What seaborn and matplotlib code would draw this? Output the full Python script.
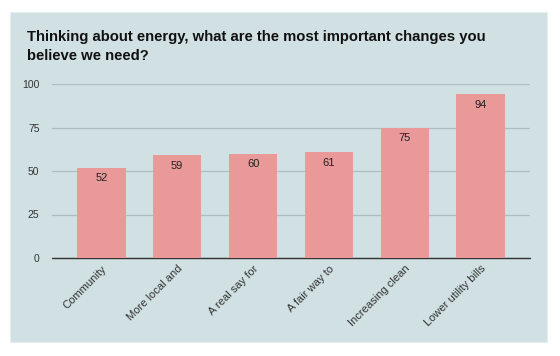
import pandas as pd
import matplotlib.pyplot as plt
import seaborn as sns
from matplotlib.patches import Rectangle

categories = ["Community", "More local and", "A real say for", "A fair way to",
              "Increasing clean", "Lower utility bills"]
values = [52, 59, 60, 61, 75, 94]
yticks = [0, 25, 50, 75, 100]

panel = "#d0e0e3"
bar_color = "#ea9999"

sns.set_theme(style="white")
plt.rcParams['font.family'] = ['Liberation Sans', 'DejaVu Sans']

data = pd.DataFrame({"category": categories, "value": values})

fig = plt.figure(figsize=(5.6, 3.56), dpi=100, facecolor="white")
bg = Rectangle((10 / 560, 1 - 342 / 356), 537 / 560, 330 / 356,
               transform=fig.transFigure, facecolor=panel,
               edgecolor="#e6eeef", linewidth=0.8, zorder=-10)
fig.add_artist(bg)

ax = fig.add_axes([52 / 560, 1 - 258 / 356, 478 / 560, 174 / 356])
ax.set_facecolor(panel)

sns.barplot(data=data, x="category", y="value", color=bar_color,
            saturation=1, width=0.64, linewidth=0, ax=ax, zorder=3)

ax.set_ylim(0, 100)
ax.set_yticks(yticks)
ax.set_xlim(-0.65, len(categories) - 0.35)
ax.grid(axis="y", color="#aebdbf", linewidth=0.9)
ax.set_axisbelow(True)
ax.axhline(0, color="#333333", linewidth=1.0, zorder=2, clip_on=False)
for s in ax.spines.values():
    s.set_visible(False)

ax.tick_params(axis="y", labelsize=7.5, colors="#333333", length=0, pad=9)
ax.tick_params(axis="x", labelsize=8, colors="#333333", length=0, pad=4)
plt.setp(ax.get_xticklabels(), rotation=45, ha="right", rotation_mode="anchor")
ax.set_xlabel("")
ax.set_ylabel("")

for i, v in enumerate(values):
    ax.text(i, v - 6.2, str(v), ha="center", va="center", fontsize=8,
            color="#222222", zorder=5)

fig.text(27 / 560, 1 - 30 / 356,
         "Thinking about energy, what are the most important changes you\nbelieve we need?",
         ha="left", va="top", fontsize=10.7, fontweight="bold", color="#111111",
         linespacing=1.45)

plt.savefig("out.png", dpi=100, facecolor="white")
